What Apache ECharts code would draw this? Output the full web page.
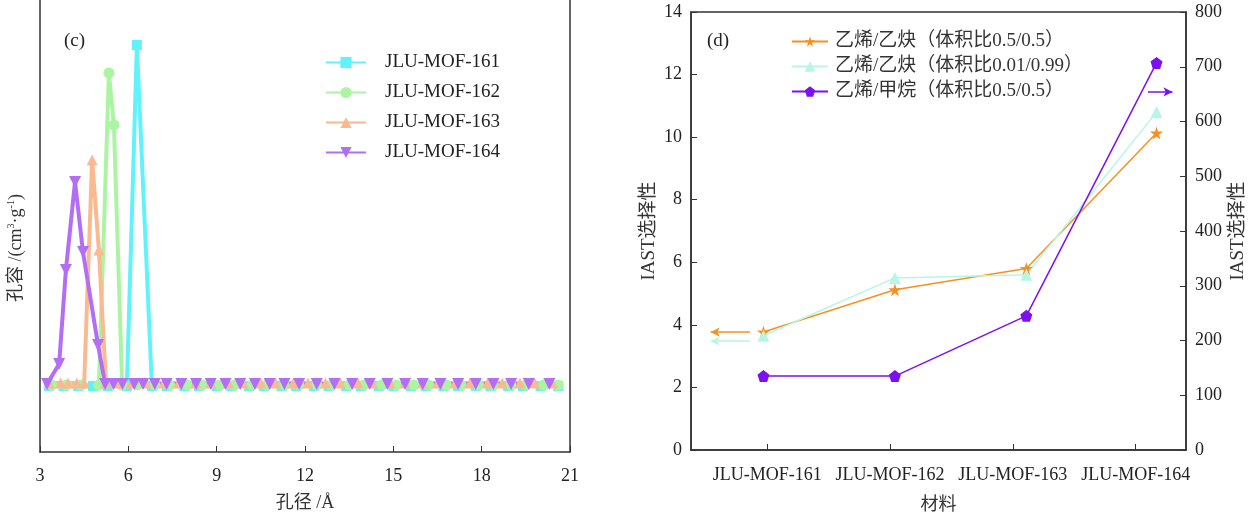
<!DOCTYPE html>
<html>
<head>
<meta charset="utf-8">
<script src="https://cdn.jsdelivr.net/npm/echarts@6/dist/echarts.min.js"></script>
<style>html,body{margin:0;padding:0;background:#fff}#c{width:1248px;height:512px}</style>
</head>
<body>
<div id="c"></div>
<script>
// ---------- Data: panel (c) pore size distribution ----------
var poreTicks = [3, 6, 9, 12, 15, 18, 21];
var mof161 = [[3.3,-0.002],[3.8,-0.002],[4.3,-0.002],[4.8,-0.002],[5.3,-0.002],[5.95,-0.002],[6.29,0.339],[6.8,-0.002],[7.3,-0.002],[7.9,-0.002],[8.4,-0.002],[9.0,-0.002],[9.5,-0.002],[10.1,-0.002],[10.6,-0.002],[11.2,-0.002],[11.7,-0.002],[12.3,-0.002],[12.8,-0.002],[13.4,-0.002],[13.9,-0.002],[14.5,-0.002],[15.0,-0.002],[15.6,-0.002],[16.1,-0.002],[16.7,-0.002],[17.2,-0.002],[17.8,-0.002],[18.3,-0.002],[18.9,-0.002],[19.4,-0.002],[20.0,-0.002],[20.6,-0.002]];
var mof162 = [[3.4,-0.001],[3.9,-0.001],[4.4,-0.001],[5.0,-0.001],[5.34,0.311],[5.51,0.259],[5.79,-0.001],[6.3,-0.001],[6.9,-0.001],[7.4,-0.001],[8.0,-0.001],[8.5,-0.001],[9.1,-0.001],[9.6,-0.001],[10.2,-0.001],[10.7,-0.001],[11.3,-0.001],[11.8,-0.001],[12.4,-0.001],[12.9,-0.001],[13.5,-0.001],[14.0,-0.001],[14.6,-0.001],[15.1,-0.001],[15.7,-0.001],[16.2,-0.001],[16.8,-0.001],[17.3,-0.001],[17.9,-0.001],[18.4,-0.001],[19.0,-0.001],[19.5,-0.001],[20.1,-0.001],[20.6,-0.001]];
var mof163 = [[3.3,0.001],[3.7,0.001],[3.95,0.001],[4.25,0.001],[4.5,0.001],[4.77,0.224],[5.0,0.134],[5.24,0.001],[5.6,0.001],[6.1,0.001],[6.6,0.001],[7.2,0.001],[7.7,0.001],[8.3,0.001],[8.8,0.001],[9.4,0.001],[9.9,0.001],[10.5,0.001],[11.0,0.001],[11.6,0.001],[12.1,0.001],[12.7,0.001],[13.2,0.001],[13.8,0.001],[14.3,0.001],[14.9,0.001],[15.4,0.001],[16.0,0.001],[16.5,0.001],[17.1,0.001],[17.6,0.001],[18.2,0.001],[18.7,0.001],[19.3,0.001],[19.8,0.001],[20.4,0.001]];
var mof164 = [[3.24,0],[3.65,0.02],[3.88,0.114],[4.19,0.202],[4.46,0.132],[4.97,0.039],[5.21,0],[5.5,0],[5.8,0],[6.2,0],[6.5,0],[6.9,0],[7.3,0],[7.8,0],[8.3,0],[8.8,0],[9.3,0],[9.8,0],[10.3,0],[10.8,0],[11.3,0],[11.8,0],[12.4,0],[13.0,0],[13.6,0],[14.2,0],[14.8,0],[15.4,0],[16.0,0],[16.6,0],[17.2,0],[17.8,0],[18.4,0],[19.0,0],[19.6,0],[20.3,0]];

// ---------- Data: panel (d) IAST selectivity ----------
var materials = ['JLU-MOF-161', 'JLU-MOF-162', 'JLU-MOF-163', 'JLU-MOF-164'];
var materialPos = [-0.03, 1.04, 2.11, 3.17];
var c2h4c2h2_55 = [3.77, 5.12, 5.8, 10.13];
var c2h4c2h2_0199 = [3.65, 5.5, 5.6, 10.8];
var c2h4ch4_55 = [135, 135, 245, 707];
var leftTicks = [0, 2, 4, 6, 8, 10, 12, 14];
var rightTicks = [0, 100, 200, 300, 400, 500, 600, 700, 800];

var serif = 'Liberation Serif, "Noto Sans CJK SC", serif';
var axisCol = '#333';
var FS = 18;

function pairs(xs, ys) { return xs.map(function (x, i) { return [x, ys[i]]; }); }

var starPath = 'path://M50,0 L61,35 L98,35 L68,57 L79,91 L50,70 L21,91 L32,57 L2,35 L39,35 Z';
var pentPath = 'path://M50,0 L98,35 L79,91 L21,91 L2,35 Z';

var chart = echarts.init(document.getElementById('c'));
var option = {
  backgroundColor: '#fff',
  animation: false,
  textStyle: { fontFamily: serif },
  graphic: [
    { type: 'text', left: 64, top: 32, style: { text: '(c)', font: '19px ' + serif, fill: '#222' } },
    { type: 'text', left: 707, top: 32, style: { text: '(d)', font: '19px ' + serif, fill: '#222' } }
  ],
  legend: [
    {
      left: 320, top: 48, orient: 'vertical', itemWidth: 40, itemHeight: 14, itemGap: 11,
      textStyle: { fontFamily: serif, fontSize: 19, color: '#222', padding: [0, 0, 0, 14] },
      data: ['JLU-MOF-161', 'JLU-MOF-162', 'JLU-MOF-163', 'JLU-MOF-164']
    },
    {
      left: 786, top: 27, orient: 'vertical', itemWidth: 36, itemHeight: 13, itemGap: 6,
      textStyle: { fontFamily: serif, fontSize: 19, color: '#333', padding: [0, 0, 0, 2] },
      data: ['乙烯/乙炔（体积比0.5/0.5）', '乙烯/乙炔（体积比0.01/0.99）', '乙烯/甲烷（体积比0.5/0.5）']
    }
  ],
  grid: [
    { left: 40, right: 678, top: 0, bottom: 60, outerBoundsMode: 'none', containLabel: false },
    { left: 691, right: 62, top: 12, bottom: 62, show: true, borderColor: axisCol, borderWidth: 1.5, outerBoundsMode: 'none', containLabel: false }
  ],
  xAxis: [
    {
      gridIndex: 0, type: 'value', min: 3, max: 21, interval: 3,
      name: '孔径 /Å', nameLocation: 'middle', nameGap: 42,
      nameTextStyle: { fontFamily: serif, fontSize: FS, color: '#333' },
      axisLine: { onZero: false, lineStyle: { color: axisCol, width: 1.5 } },
      axisTick: { inside: true, length: 6, lineStyle: { color: axisCol } },
      axisLabel: { fontFamily: serif, fontSize: FS, color: '#222', margin: 15 },
      splitLine: { show: false }
    },
    {
      gridIndex: 1, type: 'value', min: -0.62, max: 3.41,
      name: '材料', nameLocation: 'middle', nameGap: 46,
      nameTextStyle: { fontFamily: serif, fontSize: FS, color: '#333' },
      axisLine: { onZero: false, lineStyle: { color: axisCol, width: 1.5 } },
      axisTick: { inside: true, length: 6, lineStyle: { color: axisCol }, customValues: [0, 1, 2, 3] },
      axisLabel: {
        fontFamily: serif, fontSize: FS, color: '#222', margin: 16,
        customValues: [0, 1, 2, 3],
        formatter: function (v) { return materials[Math.round(v)]; }
      },
      splitLine: { show: false }
    }
  ],
  yAxis: [
    {
      gridIndex: 0, type: 'value', min: -0.068, max: 0.384,
      name: '孔容 /(cm{s|3}·g{s|-1})', nameLocation: 'middle', nameGap: 14, nameRotate: 90,
      nameTextStyle: { fontFamily: serif, fontSize: FS, color: '#333', padding: [0, 44, 0, 0],
        rich: { s: { fontSize: 10, fontFamily: serif, color: '#333', padding: [0, 0, 10, 0] } } },
      axisLine: { show: true, onZero: false, lineStyle: { color: axisCol, width: 1.5 } },
      axisTick: { show: false }, axisLabel: { show: false }, splitLine: { show: false }
    },
    {
      gridIndex: 0, type: 'value', min: -0.068, max: 0.384, position: 'right',
      axisLine: { show: true, onZero: false, lineStyle: { color: axisCol, width: 1.5 } },
      axisTick: { show: false }, axisLabel: { show: false }, splitLine: { show: false }
    },
    {
      gridIndex: 1, type: 'value', min: 0, max: 14, interval: 2,
      name: 'IAST选择性', nameLocation: 'middle', nameGap: 32, nameRotate: 90,
      nameTextStyle: { fontFamily: serif, fontSize: 19, color: '#333' },
      axisLine: { show: true, onZero: false, lineStyle: { color: axisCol, width: 1.5 } },
      axisTick: { inside: true, length: 6, lineStyle: { color: axisCol } },
      axisLabel: { fontFamily: serif, fontSize: FS, color: '#222', margin: 9 },
      splitLine: { show: false }
    },
    {
      gridIndex: 1, type: 'value', min: 0, max: 800, interval: 100, position: 'right',
      name: 'IAST选择性', nameLocation: 'middle', nameGap: 43, nameRotate: 90,
      nameTextStyle: { fontFamily: serif, fontSize: 19, color: '#333' },
      axisLine: { show: true, onZero: false, lineStyle: { color: axisCol, width: 1.5 } },
      axisTick: { inside: true, length: 6, lineStyle: { color: axisCol } },
      axisLabel: { fontFamily: serif, fontSize: FS, color: '#222', margin: 9 },
      splitLine: { show: false }
    }
  ],
  series: [
    { name: 'JLU-MOF-161', type: 'line', xAxisIndex: 0, yAxisIndex: 0, data: mof161, symbol: 'rect', symbolSize: 10,
      lineStyle: { width: 4, color: '#62f2fb' }, itemStyle: { color: '#62f2fb' } },
    { name: 'JLU-MOF-162', type: 'line', xAxisIndex: 0, yAxisIndex: 0, data: mof162, symbol: 'circle', symbolSize: 11,
      lineStyle: { width: 4, color: '#abf5a2' }, itemStyle: { color: '#abf5a2' } },
    { name: 'JLU-MOF-163', type: 'line', xAxisIndex: 0, yAxisIndex: 0, data: mof163, symbol: 'triangle', symbolSize: 11,
      lineStyle: { width: 4, color: '#fab98f' }, itemStyle: { color: '#fab98f' } },
    { name: 'JLU-MOF-164', type: 'line', xAxisIndex: 0, yAxisIndex: 0, data: mof164, symbol: 'triangle', symbolRotate: 180, symbolSize: 12,
      lineStyle: { width: 4, color: '#b36ef3' }, itemStyle: { color: '#b36ef3' } },

    { name: '乙烯/乙炔（体积比0.5/0.5）', type: 'line', xAxisIndex: 1, yAxisIndex: 2, data: pairs(materialPos, c2h4c2h2_55),
      symbol: starPath, symbolSize: 13, lineStyle: { width: 1.5, color: '#f7901e' }, itemStyle: { color: '#f7901e' },
      markLine: { silent: true, symbol: ['none', 'arrow'], symbolSize: [7, 9], label: { show: false },
        lineStyle: { color: '#f7901e', width: 1.5, type: 'solid' },
        data: [[{ coord: [-0.14, 3.77] }, { coord: [-0.46, 3.77] }]] } },
    { name: '乙烯/乙炔（体积比0.01/0.99）', type: 'line', xAxisIndex: 1, yAxisIndex: 2, data: pairs(materialPos, c2h4c2h2_0199),
      symbol: 'triangle', symbolSize: 12, lineStyle: { width: 1.5, color: '#b5f6e6' }, itemStyle: { color: '#b5f6e6' },
      markLine: { silent: true, symbol: ['none', 'arrow'], symbolSize: [7, 9], label: { show: false },
        lineStyle: { color: '#b5f6e6', width: 1.5, type: 'solid' },
        data: [[{ coord: [-0.14, 3.48] }, { coord: [-0.46, 3.48] }]] } },
    { name: '乙烯/甲烷（体积比0.5/0.5）', type: 'line', xAxisIndex: 1, yAxisIndex: 3, data: pairs(materialPos, c2h4ch4_55),
      symbol: pentPath, symbolSize: 12, lineStyle: { width: 1.5, color: '#7c10f0' }, itemStyle: { color: '#7c10f0' },
      markLine: { silent: true, symbol: ['none', 'arrow'], symbolSize: [7, 9], label: { show: false },
        lineStyle: { color: '#7c10f0', width: 1.5, type: 'solid' },
        data: [[{ coord: [3.1, 654] }, { coord: [3.3, 654] }]] } }
  ]
};
chart.setOption(option);
</script>
</body>
</html>
